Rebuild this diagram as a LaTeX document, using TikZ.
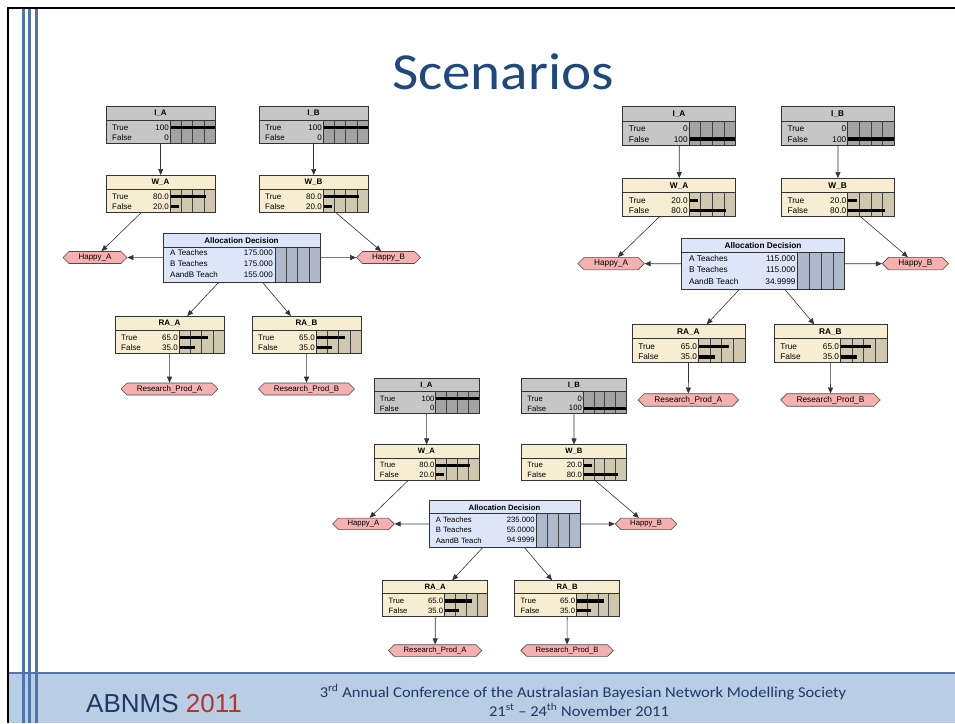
\documentclass[tikz,border=0pt]{standalone}
\usepackage{fontspec}
\setmainfont{Liberation Sans}
\newfontfamily\calib[FakeStretch=1.1]{Carlito}
\usetikzlibrary{arrows.meta,shapes.symbols}
\definecolor{Ibg}{HTML}{C6C6C6}
\definecolor{Ibar}{HTML}{A3A3A3}
\definecolor{Wbg}{HTML}{F7EED2}
\definecolor{Wbar}{HTML}{D0C7AF}
\definecolor{Dbg}{HTML}{DDE6F9}
\definecolor{Dbar}{HTML}{B0B8CB}
\definecolor{hexfill}{HTML}{F5B0B0}
\definecolor{titleblue}{HTML}{1F497D}
\definecolor{navy}{HTML}{1F3864}
\definecolor{abred}{HTML}{B0372E}
\definecolor{footbg}{HTML}{B9CDE5}
\definecolor{stripe}{HTML}{4F74AE}
\tikzset{
 boxl/.style={draw=black!80, line width=0.6pt},
 gridl/.style={draw=black!75, line width=0.5pt},
 lbl/.style={font=\fontsize{8}{9}\selectfont, inner sep=0pt},
 ttl/.style={font=\fontsize{8}{9}\selectfont\bfseries, inner sep=0pt},
 hexa/.style={shape=signal, signal to=west and east, draw=black!70, fill=hexfill, line width=0.6pt, inner sep=0pt, font=\fontsize{8}{9}\selectfont, minimum height=12pt},
 edge/.style={draw=black!80, line width=0.6pt, -{Triangle[length=6pt,width=5pt]}},
}
\newcommand\bnnode[6]{%
\begin{scope}[shift={#2}]
 \fill[#3bg] (0,0) rectangle (109,37);
 \fill[#3bar] (64,14) rectangle (109,37);
 \foreach \k in {1,2,3}{\draw[gridl] ({64+11.25*\k},14) -- ({64+11.25*\k},37);}
 \fill[black] (64,19.8) rectangle ({64+0.45*#5},23.2);
 \fill[black] (64,29.8) rectangle ({64+0.45*#6},33.2);
 \draw[boxl] (0,14) -- (109,14) (64,14) -- (64,37);
 \draw[boxl] (0,0) rectangle (109,37);
 \node[ttl] at (54.5,7.5) {#4};
 \node[lbl,anchor=west] at (6,21.5) {True};
 \node[lbl,anchor=east] at (63,21.5) {#5};
 \node[lbl,anchor=west] at (6,31.5) {False};
 \node[lbl,anchor=east] at (63,31.5) {#6};
 \node[inner sep=0pt, minimum width=109pt, minimum height=37pt, anchor=north west] (#1) at (0,0) {};
\end{scope}}
\newcommand\decnode[5]{%
\begin{scope}[shift={#2}]
 \fill[Dbg] (0,0) rectangle (157,49);
 \fill[Dbar] (112,14) rectangle (157,49);
 \foreach \k in {1,2,3}{\draw[gridl] ({112+11.25*\k},14) -- ({112+11.25*\k},49);}
 \draw[boxl] (0,14) -- (157,14) (112,14) -- (112,49);
 \draw[boxl] (0,0) rectangle (157,49);
 \node[ttl] at (78.5,7.5) {Allocation Decision};
 \node[lbl,anchor=west] at (7,20) {A Teaches};
 \node[lbl,anchor=east] at (110,20) {#3};
 \node[lbl,anchor=west] at (7,30.5) {B Teaches};
 \node[lbl,anchor=east] at (110,30.5) {#4};
 \node[lbl,anchor=west] at (7,41.5) {AandB Teach};
 \node[lbl,anchor=east] at (110,41.5) {#5};
 \node[inner sep=0pt, minimum width=157pt, minimum height=49pt, anchor=north west] (#1) at (0,0) {};
\end{scope}}
\newcommand\netrest[1]{%
 \node[hexa, minimum width=64pt] (#1HA) at (-11,151.5) {Happy\_A};
 \node[hexa, minimum width=64pt] (#1HB) at (282.5,151.5) {Happy\_B};
 \node[hexa, minimum width=97pt] (#1PA) at (63.5,283) {Research\_Prod\_A};
 \node[hexa, minimum width=96pt] (#1PB) at (200.5,283) {Research\_Prod\_B};
 \draw[edge] (#1IA) -- (#1WA);
 \draw[edge] (#1IB) -- (#1WB);
 \draw[edge] (#1WA) -- (#1HA);
 \draw[edge] (#1WB) -- (#1HB);
 \draw[edge] (#1D) -- (#1HA);
 \draw[edge] (#1D) -- (#1HB);
 \draw[edge] (#1D) -- (#1RA);
 \draw[edge] (#1D) -- (#1RB);
 \draw[edge] (#1RA) -- (#1PA);
 \draw[edge] (#1RB) -- (#1PB);
}
\begin{document}
\begin{tikzpicture}[x=1pt,y=-1pt]
\useasboundingbox (0,0) rectangle (955,723);
\fill[white] (0,0) rectangle (955,723);
% footer
\fill[footbg] (8,673) rectangle (955,723);
\draw[stripe, line width=2pt] (8,673) -- (955,673);
\foreach \sx in {23.3,29.7,36.7}{\draw[stripe, line width=3.5pt] (\sx,8) -- (\sx,723);}
\draw[black, line width=2pt] (8,723) -- (8,8) -- (955,8);
% title
\node[font=\calib\fontsize{52}{55}\selectfont, text=titleblue, anchor=base, inner sep=0pt] (title) at (503,89) {Scenarios};
% footer text
\node[font=\fontsize{26}{30}\selectfont, anchor=base, inner sep=0pt] (abnms) at (164,712) {\color{navy}ABNMS \color{abred}2011};
\node[font=\calib\fontsize{15}{17}\selectfont, text=navy, anchor=base, inner sep=0pt] (conf1) at (583,697) {3\textsuperscript{rd} Annual Conference of the Australasian Bayesian Network Modelling Society};
\node[font=\calib\fontsize{15}{17}\selectfont, text=navy, anchor=base, inner sep=0pt] (conf2) at (579,716) {21\textsuperscript{st} – 24\textsuperscript{th} November 2011};
% scenario 1
\begin{scope}[shift={(106,106)}, transform shape]
 \bnnode{aIA}{(0,0)}{I}{I\_A}{100}{0}
 \bnnode{aIB}{(153,0)}{I}{I\_B}{100}{0}
 \bnnode{aWA}{(0,69)}{W}{W\_A}{80.0}{20.0}
 \bnnode{aWB}{(153,69)}{W}{W\_B}{80.0}{20.0}
 \decnode{aD}{(57,127)}{175.000}{175.000}{155.000}
 \bnnode{aRA}{(9,210)}{W}{RA\_A}{65.0}{35.0}
 \bnnode{aRB}{(146,210)}{W}{RA\_B}{65.0}{35.0}
 \netrest{a}
\end{scope}
% scenario 2
\begin{scope}[shift={(622.5,106.5)}, scale=1.037, transform shape]
 \bnnode{bIA}{(0,0)}{I}{I\_A}{0}{100}
 \bnnode{bIB}{(153,0)}{I}{I\_B}{0}{100}
 \bnnode{bWA}{(0,69)}{W}{W\_A}{20.0}{80.0}
 \bnnode{bWB}{(153,69)}{W}{W\_B}{20.0}{80.0}
 \decnode{bD}{(57,127)}{115.000}{115.000}{34.9999}
 \bnnode{bRA}{(9,210)}{W}{RA\_A}{65.0}{35.0}
 \bnnode{bRB}{(146,210)}{W}{RA\_B}{65.0}{35.0}
 \netrest{b}
\end{scope}
% scenario 3
\begin{scope}[shift={(374,378)}, scale=0.963, transform shape]
 \bnnode{cIA}{(0,0)}{I}{I\_A}{100}{0}
 \bnnode{cIB}{(153,0)}{I}{I\_B}{0}{100}
 \bnnode{cWA}{(0,69)}{W}{W\_A}{80.0}{20.0}
 \bnnode{cWB}{(153,69)}{W}{W\_B}{20.0}{80.0}
 \decnode{cD}{(57,127)}{235.000}{55.0000}{94.9999}
 \bnnode{cRA}{(9,210)}{W}{RA\_A}{65.0}{35.0}
 \bnnode{cRB}{(146,210)}{W}{RA\_B}{65.0}{35.0}
 \netrest{c}
\end{scope}
\end{tikzpicture}
\end{document}
